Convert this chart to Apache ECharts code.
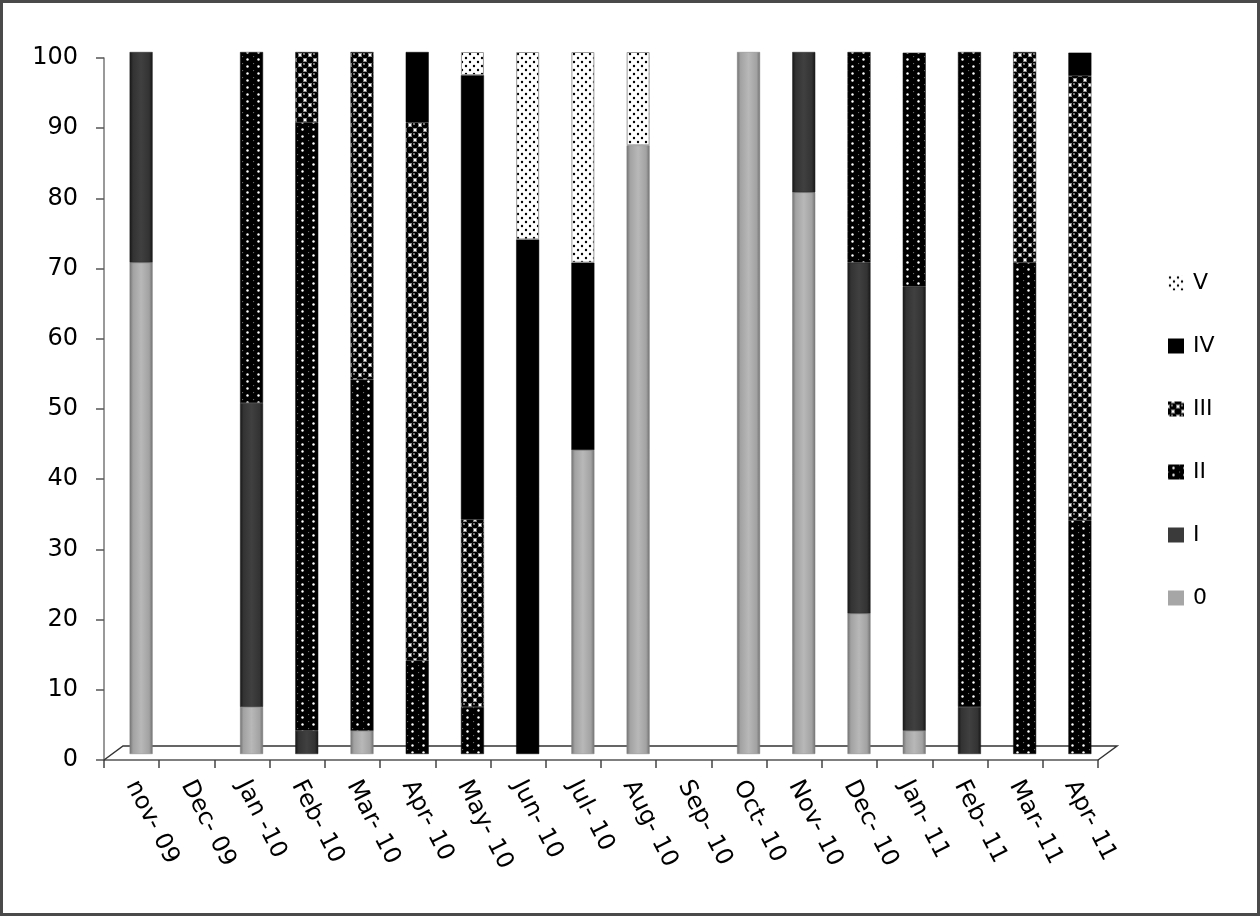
<!DOCTYPE html>
<html>
<head>
<meta charset="utf-8">
<script src="https://cdn.jsdelivr.net/npm/echarts@6/dist/echarts.min.js"></script>
<style>
html,body{margin:0;padding:0;background:#fff;}
#chart{width:1260px;height:916px;}
</style>
</head>
<body>
<div id="chart"></div>
<script>
// ---- data ----
var categories = ['nov- 09','Dec- 09','Jan -10','Feb- 10','Mar- 10','Apr- 10','May- 10','Jun- 10','Jul- 10','Aug- 10','Sep- 10','Oct- 10','Nov- 10','Dec- 10','Jan- 11','Feb- 11','Mar- 11','Apr- 11'];
var s0   = [70, 0, 6.7, 0,   3.3, 0,    0,    0,    43.3, 86.7, 0, 100, 80, 20, 3.3,  0,    0,  0];
var sI   = [30, 0, 43.3,3.3, 0,   0,    0,    0,    0,    0,    0, 0,   20, 50, 63.3, 6.7,  0,  0];
var sII  = [0,  0, 50,  86.7,50,  13.3, 6.7,  0,    0,    0,    0, 0,   0,  30, 33.3, 93.3, 70, 33.3];
var sIII = [0,  0, 0,   10,  46.7,76.7, 26.7, 0,    0,    0,    0, 0,   0,  0,  0,    0,    30, 63.3];
var sIV  = [0,  0, 0,   0,   0,   10,   63.3, 73.3, 26.7, 0,    0, 0,   0,  0,  0,    0,    0,  3.3];
var sV   = [0,  0, 0,   0,   0,   0,    3.3,  26.7, 30,   13.3, 0, 0,   0,  0,  0,    0,    0,  0];
var seriesNames = ['0','I','II','III','IV','V'];
var legendOrder = ['V','IV','III','II','I','0'];
var yTicks = {min:0, max:100, step:10};

// ---- styles ----
function pattern(w, h, draw){
  var c = document.createElement('canvas');
  c.width = w; c.height = h;
  var g = c.getContext('2d');
  draw(g, w, h);
  return {image: c, repeat: 'repeat'};
}
function dot(g, x, y, r, col){ g.fillStyle = col; g.beginPath(); g.arc(x, y, r, 0, Math.PI*2); g.fill(); }
var patII = pattern(11, 7, function(g,w,h){ g.fillStyle='#000'; g.fillRect(0,0,w,h); dot(g,5.5,3.5,1.2,'#fff'); dot(g,0.5,0.5,0.7,'#666'); });
var patIII = pattern(10, 10, function(g,w,h){ g.fillStyle='#fff'; g.fillRect(0,0,w,h);
  [[0,0],[10,0],[0,10],[10,10],[5,5]].forEach(function(p){ dot(g,p[0],p[1],3.6,'#000'); });
  dot(g,4,4,0.9,'#aaa');
});
var patV = pattern(8, 8, function(g,w,h){ g.fillStyle='#fff'; g.fillRect(0,0,w,h); dot(g,2,2,1.2,'#000'); dot(g,6,6,1.2,'#000'); });
function cyl(edge, mid, center){
  return {type:'linear', x:0, y:0, x2:1, y2:0, colorStops:[
    {offset:0, color:edge},{offset:0.15, color:mid},{offset:0.5, color:center},{offset:0.85, color:mid},{offset:1, color:edge}]};
}
var fills = {
  '0':   {color: cyl('#707070','#a2a2a2','#b8b8b8'), borderColor:'#808080', borderWidth:0.5},
  'I':   {color: cyl('#151515','#333333','#404040'), borderColor:'#222', borderWidth:0.5},
  'II':  {color: patII, borderColor:'#111', borderWidth:0.5},
  'III': {color: patIII, borderColor:'#222', borderWidth:0.5},
  'IV':  {color: '#000000', borderColor:'#000', borderWidth:0.5},
  'V':   {color: patV, borderColor:'#9a9a9a', borderWidth:1}
};
var legendIcons = {'0':'#a6a6a6','I':'#3a3a3a','II':patII,'III':patIII,'IV':'#000','V':patV};

var FONT = 'DejaVu Sans';
var G = {left:104, right:162, top:58, bottom:156};
var D = {dx:9.5, dy:-6};

var dataBySeries = {'0':s0,'I':sI,'II':sII,'III':sIII,'IV':sIV,'V':sV};

var chart = echarts.init(document.getElementById('chart'), null, {renderer:'canvas'});

var series = seriesNames.map(function(n){
  return {
    name: n, type:'bar', stack:'total', xAxisIndex:1, yAxisIndex:1,
    barWidth: 23,
    itemStyle: fills[n],
    emphasis: {disabled:true},
    data: dataBySeries[n].map(function(v){ return v === 0 ? null : v; })
  };
});

var W = 1260, H = 916;
var x0 = G.left, x1 = W - G.right, yb = H - G.bottom;
var option = {
  animation: false,
  backgroundColor: '#fff',
  grid: [
    {left:G.left, right:G.right, top:G.top, bottom:G.bottom},
    {left:G.left + D.dx, right:G.right - D.dx, top:G.top + D.dy, bottom:G.bottom - D.dy}
  ],
  xAxis: [
    {type:'category', gridIndex:0, data:categories, boundaryGap:true,
     axisLine:{show:true, lineStyle:{color:'#555', width:1.5}},
     axisTick:{show:true, interval:0, length:8, lineStyle:{color:'#444', width:1.5}},
     axisLabel:{interval:0, rotate:-63, margin:22, fontSize:24, fontFamily:FONT, color:'#000'}},
    {type:'category', gridIndex:1, data:categories, show:false}
  ],
  yAxis: [
    {type:'value', gridIndex:0, min:yTicks.min, max:yTicks.max, interval:yTicks.step,
     axisLine:{show:true, lineStyle:{color:'#777', width:1.5}},
     axisTick:{show:true, length:8, lineStyle:{color:'#555', width:1.5}},
     splitLine:{show:false},
     axisLabel:{margin:26, fontSize:24, fontFamily:FONT, color:'#000'}},
    {type:'value', gridIndex:1, min:yTicks.min, max:yTicks.max, show:false, splitLine:{show:false}}
  ],
  legend: {
    orient:'vertical', left:1163, top:267, itemWidth:16, itemHeight:15, itemGap:41,
    data: legendOrder.map(function(n){ return {name:n, icon:'rect', itemStyle:{color:legendIcons[n], borderWidth:0}}; }),
    textStyle:{fontSize:22, lineHeight:22, fontFamily:FONT, color:'#000', padding:[0,0,0,4]},
    selectedMode:false
  },
  graphic: [
    {type:'polyline', silent:true, z:1,
     shape:{points:[[x0, yb],[x0 + 2*D.dx, yb + 2*D.dy - 2],[x1 + 2*D.dx, yb + 2*D.dy - 2],[x1, yb]]},
     style:{stroke:'#333', lineWidth:1.5, fill:null}},
    {type:'rect', silent:true, z:100, shape:{x:1.5, y:1.5, width:W-3, height:H-3},
     style:{stroke:'#4a4a4a', lineWidth:3, fill:null}}
  ],
  series: series
};
chart.setOption(option);
</script>
</body>
</html>
